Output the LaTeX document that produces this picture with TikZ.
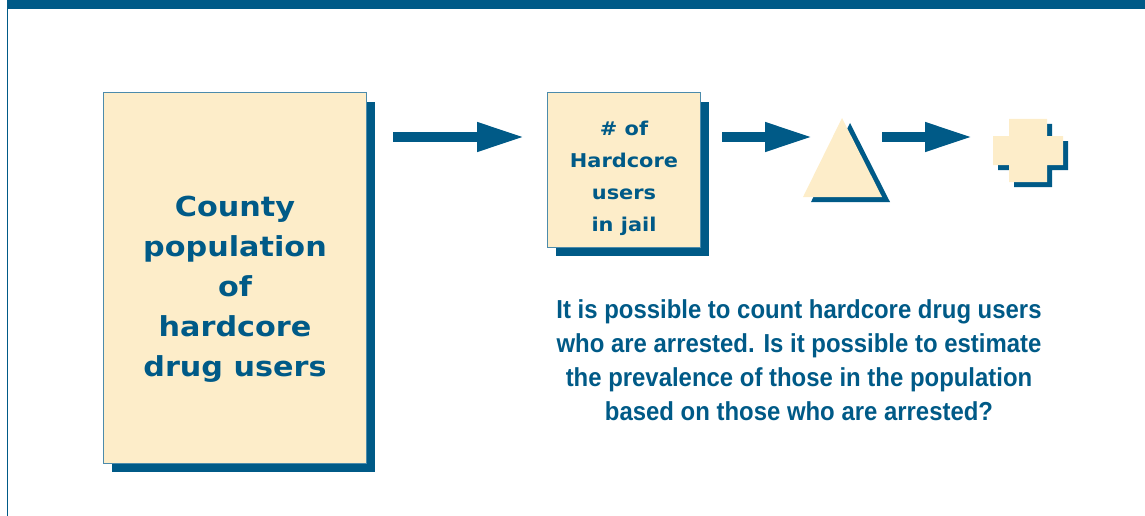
\documentclass[tikz,border=0pt]{standalone}
\usepackage{fontspec}
\usetikzlibrary{arrows.meta,shadows}
\definecolor{navy}{RGB}{0,90,135}
\definecolor{cream}{RGB}{253,237,201}
\newfontfamily\boxfont[FakeStretch=1.1]{DejaVu Sans}
\newfontfamily\askfont[FakeStretch=0.92]{Liberation Sans}
\begin{document}
\begin{tikzpicture}[x=1pt,y=-1pt,
	card/.style={draw=navy!70,line width=1pt,fill=cream,outer sep=0pt,inner sep=0pt,
		drop shadow={shadow xshift=9pt,shadow yshift=-9pt,fill=navy,opacity=1}},
	cardtext/.style={text=navy,align=center,inner sep=0pt},
	fat/.style={draw=navy,line width=10pt,-{Triangle[length=48pt,width=27pt]}}]
	\useasboundingbox (0,0) rectangle (1145,516);
	\fill[navy] (7,0) rectangle (1145,9);
	\draw[navy,line width=1pt] (7.5,0) -- (7.5,516);
	\node[card,minimum width=263pt,minimum height=370pt] (county) at (234.5,278) {};
	\node[cardtext,font=\boxfont\bfseries\fontsize{27.5}{40}\selectfont] (countytext) at (235,289) {County\\population\\of\\hardcore\\drug users};
	\node[card,minimum width=153pt,minimum height=154pt] (jail) at (623.5,170) {};
	\node[cardtext,font=\boxfont\bfseries\fontsize{19}{32}\selectfont] (jailtext) at (624,178) {\# of\\Hardcore\\users\\in jail};
	\coordinate (row) at (0,137);
	\coordinate (tri) at (842,118);
	\coordinate (plus) at (1028,150);
	\path[fill=cream,drop shadow={shadow xshift=8pt,shadow yshift=-5pt,fill=navy,opacity=1}]
		(tri) -- ++(40,79) -- ++(-79,0) -- cycle;
	\path[fill=cream,drop shadow={shadow xshift=5pt,shadow yshift=-5pt,fill=navy,opacity=1}]
		(1009,119) -- ++(38,0) -- ++(0,17) -- ++(16,0) -- ++(0,29) -- ++(-16,0) -- ++(0,17)
		-- ++(-38,0) -- ++(0,-17) -- ++(-16,0) -- ++(0,-29) -- ++(16,0) -- cycle;
	\draw[fat,shorten <=27pt,shorten >=22pt] (county.east |- row) -- (jail.west |- row);
	\draw[fat,shorten <=22pt,shorten >=29pt] (jail.east |- row) -- (tri |- row);
	\draw[fat,shorten <=40pt,shorten >=55pt] (tri |- row) -- (plus |- row);
	\node[cardtext,font=\askfont\bfseries\fontsize{26}{34}\selectfont] (question) at (799,360)
		{It is possible to count hardcore drug users\\who are arrested. Is it possible to estimate\\the prevalence of those in the population\\based on those who are arrested?};
\end{tikzpicture}
\end{document}
